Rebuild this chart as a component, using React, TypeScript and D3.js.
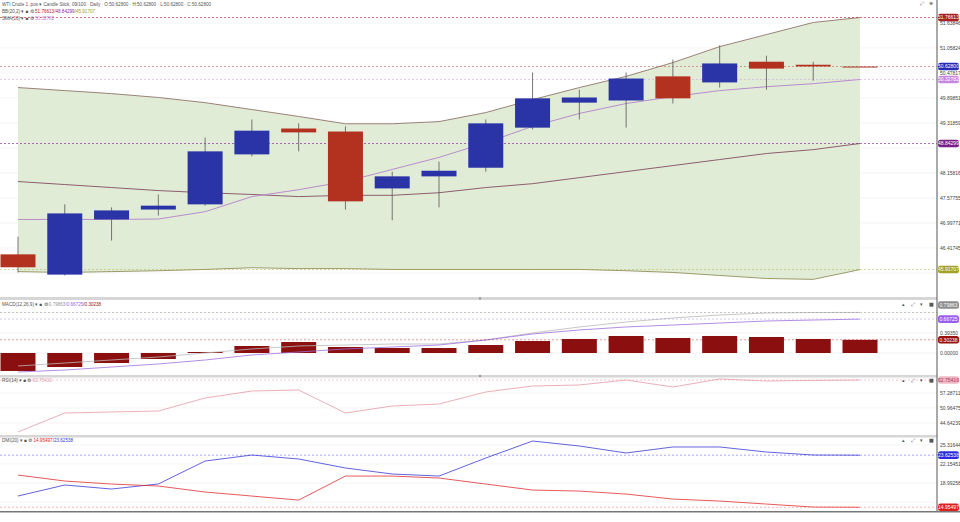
import React from 'react';
import * as d3 from 'd3';

const W = 960;
const H = 522;

// Candles (daily)
const opens = [46.27, 45.80, 47.08, 47.31, 47.43, 48.59, 49.19, 49.12, 47.80, 48.08, 48.28, 49.21, 49.79, 49.84, 50.40, 50.26, 50.74, 50.67, 50.628];
const highs = [46.68, 47.43, 47.36, 47.66, 48.98, 49.40, 49.31, 49.24, 48.19, 48.42, 49.40, 50.49, 50.09, 50.49, 50.79, 51.12, 50.88, 50.74, 50.628];
const lows = [45.85, 45.78, 46.59, 47.17, 47.40, 48.54, 48.66, 47.31, 47.06, 47.36, 48.19, 49.17, 49.40, 49.21, 49.77, 50.14, 50.09, 50.30, 50.628];
const closes = [45.97, 47.22, 47.29, 47.40, 48.66, 49.14, 49.10, 47.50, 48.08, 48.21, 49.31, 49.89, 49.91, 50.35, 49.89, 50.70, 50.58, 50.63, 50.628];

// Bollinger (20,2) and SMA(10)
const bbUpper = [50.14, 50.07, 50.0, 49.91, 49.79, 49.63, 49.47, 49.30, 49.30, 49.35, 49.56, 49.86, 50.14, 50.40, 50.72, 51.09, 51.37, 51.65, 51.76613];
const bbMiddle = [47.96, 47.89, 47.82, 47.75, 47.70, 47.66, 47.61, 47.64, 47.64, 47.70, 47.82, 47.91, 48.05, 48.19, 48.33, 48.47, 48.61, 48.70, 48.84299];
const bbLower = [45.87, 45.85, 45.87, 45.89, 45.92, 45.96, 45.94, 45.94, 45.92, 45.92, 45.92, 45.92, 45.92, 45.89, 45.85, 45.78, 45.71, 45.69, 45.91707];
const sma10 = [47.08, 47.08, 47.08, 47.09, 47.26, 47.61, 47.77, 47.96, 48.24, 48.52, 48.86, 49.24, 49.54, 49.77, 49.93, 50.07, 50.16, 50.23, 50.32782];

// MACD(12,26,9)
const macdLine = [-0.256, -0.197, -0.138, -0.079, 0.0, 0.079, 0.138, 0.157, 0.177, 0.177, 0.256, 0.394, 0.512, 0.61, 0.689, 0.748, 0.787, 0.797, 0.79863];
const macdSignal = [-0.374, -0.335, -0.276, -0.216, -0.138, -0.039, 0.02, 0.079, 0.118, 0.157, 0.256, 0.374, 0.453, 0.512, 0.551, 0.59, 0.63, 0.649, 0.66725];
const macdHist = [-0.354, -0.276, -0.197, -0.118, 0.02, 0.138, 0.216, 0.118, 0.098, 0.098, 0.157, 0.236, 0.276, 0.335, 0.295, 0.335, 0.315, 0.276, 0.26];

// RSI(14)
const rsi = [40.85, 48.86, 49.28, 49.7, 55.18, 58.13, 58.55, 48.86, 51.81, 52.65, 57.71, 60.24, 60.66, 62.77, 59.81, 63.19, 62.34, 62.6, 62.75416];

// DMI(20)
const diPlus = [16.83, 18.66, 17.99, 18.83, 22.65, 23.65, 22.99, 21.49, 20.49, 20.15, 23.15, 25.98, 25.15, 23.99, 24.99, 24.99, 24.15, 23.65, 23.62538];
const diMinus = [20.32, 19.32, 18.82, 18.49, 17.49, 16.82, 16.15, 20.15, 20.15, 19.82, 18.82, 17.82, 17.65, 17.15, 16.32, 15.99, 15.49, 14.99, 14.95497];

// Axis tick labels
const priceTicks = [51.63846, 51.05824, 50.47817, 49.89851, 49.31859, 48.73837, 48.15816, 47.57755, 46.99771, 46.41745, 45.83724];
const macdTicks = [0.3935, 0.0];
const rsiTicks = [63.60947, 57.28711, 50.96475, 44.64239];
const dmiTicks = [25.31644, 22.15451, 18.99258, 15.83065];

const FONT = 'Liberation Sans, Arial, sans-serif';
const UP = '#2a34a6';
const DOWN = '#b3321f';
const AXIS_X = 937;

function Badge({ y, value, color, textColor = '#fff' }: { y: number; value: string; color: string; textColor?: string }) {
  return (
    <g>
      <rect x={AXIS_X + 1} y={y - 3.8} width={21} height={7.6} rx={2.5} fill={color} />
      <text x={AXIS_X + 11.5} y={y + 1.8} fontSize={5} textAnchor="middle" fill={textColor} fontFamily={FONT}>{value}</text>
    </g>
  );
}

function PanelIcons({ y }: { y: number }) {
  return (
    <g fontFamily="DejaVu Sans, sans-serif" fontSize={5} fill="#555">
      <text x={902} y={y}>▴</text>
      <text x={911} y={y}>⤢</text>
      <text x={920} y={y}>▾</text>
      <text x={929} y={y}>■</text>
    </g>
  );
}

export default function App() {
  const idx = d3.range(opens.length);
  const x = d3.scaleLinear().domain([0, opens.length - 1]).range([18, 860]);
  const candleW = 35;

  const yMain = d3.scaleLinear().domain([45.2573, 51.9865]).range([298, 8]);
  const yMacd = d3.scaleLinear().domain([-0.433, 1.043]).range([375, 300]);
  const yRsi = d3.scaleLinear().domain([39.59, 64.03]).range([435, 377]);
  const yDmi = d3.scaleLinear().domain([14.5, 26.65]).range([510, 437]);

  const lineOf = (arr: number[], y: d3.ScaleLinear<number, number>) =>
    d3.line<number>().x((_, i) => x(i)).y((d) => y(d))(arr) || '';

  const bandArea = d3.area<number>()
    .x((i) => x(i))
    .y0((i) => yMain(bbLower[i]))
    .y1((i) => yMain(bbUpper[i]))(idx) || '';

  const last = opens.length - 1;

  const badgeYs = [
    yMain(bbUpper[last]), yMain(closes[last]), yMain(sma10[last]), yMain(bbMiddle[last]), yMain(bbLower[last]),
    305, yMacd(macdSignal[last]), yMacd(macdHist[last]),
    yRsi(rsi[last]),
    yDmi(diPlus[last]), yDmi(diMinus[last]),
  ];
  const hidden = (yy: number) => badgeYs.some((b) => Math.abs(b - yy) < 5.5);

  const dashed = (y: number, color: string, op = 1) => (
    <line x1={0} x2={AXIS_X} y1={y} y2={y} stroke={color} strokeWidth={0.8} strokeDasharray="2,2" opacity={op} />
  );

  const grid = (ticks: number[], y: d3.ScaleLinear<number, number>) =>
    ticks.map((t, i) => (
      <line key={i} x1={0} x2={AXIS_X} y1={y(t)} y2={y(t)} stroke="#ececec" strokeWidth={0.6} />
    ));

  const tickLabels = (ticks: number[], y: d3.ScaleLinear<number, number>, digits: number) =>
    ticks.filter((t) => !hidden(y(t))).map((t, i) => (
      <text key={i} x={AXIS_X + 3} y={y(t) + 1.8} fontSize={5} fill="#444" fontFamily={FONT}>{t.toFixed(digits)}</text>
    ));

  return (
    <svg width={W} height={H} style={{ position: 'absolute', left: 0, top: 0, background: '#fff' }}>
      <rect x={0} y={0} width={W} height={H} fill="#fff" />

      {/* ===== Main panel ===== */}
      {grid(priceTicks, yMain)}
      <path d={bandArea} fill="#e1ecd7" />
      <path d={lineOf(bbUpper, yMain)} fill="none" stroke="#9a8276" strokeWidth={1} />
      <path d={lineOf(bbLower, yMain)} fill="none" stroke="#9c9a6a" strokeWidth={1} />
      <path d={lineOf(bbMiddle, yMain)} fill="none" stroke="#8c5e6e" strokeWidth={1} />
      <path d={lineOf(sma10, yMain)} fill="none" stroke="#b98ccc" strokeWidth={1} />

      {dashed(yMain(bbUpper[last]), '#b22222', 0.8)}
      {dashed(yMain(closes[last]), '#c05050', 0.7)}
      {dashed(yMain(sma10[last]), '#d9a6e6', 0.8)}
      {dashed(yMain(bbMiddle[last]), '#7a1f8a', 0.8)}
      {dashed(yMain(bbLower[last]), '#a9a93a', 0.6)}

      {idx.map((i) => {
        const up = closes[i] > opens[i];
        const color = up ? UP : DOWN;
        const top = yMain(Math.max(opens[i], closes[i]));
        const bot = yMain(Math.min(opens[i], closes[i]));
        const h = Math.max(bot - top, 1);
        return (
          <g key={i}>
            <line x1={x(i)} x2={x(i)} y1={yMain(highs[i])} y2={yMain(lows[i])} stroke="#555" strokeWidth={0.8} />
            <rect x={x(i) - candleW / 2} y={top} width={candleW} height={h} fill={i === last ? '#a83a2a' : color} />
          </g>
        );
      })}

      {/* Main legend */}
      <g fontFamily={FONT} fontSize={4.6} fill="#555">
        <text x={2} y={5.5}>WTI Crude 1 .pos  ▾  Candle Stick, 09/100 · Daily · O:50.62800 · H:50.62800 · L:50.62800 · C:50.62800</text>
        <text x={2} y={12.5}>BB(20,2)  ▾  ■  ⚙  <tspan fill="#c02020">51.76613</tspan><tspan fill="#8a2a9a">/48.84299</tspan><tspan fill="#a0a020">/45.91707</tspan></text>
        <text x={2} y={19.5}>SMA(10)  ▾  ■  ⚙  <tspan fill="#c080d8">50.32782</tspan></text>
      </g>
      <g fontFamily="DejaVu Sans, sans-serif" fontSize={5} fill="#555">
        <text x={920} y={5}>⤢</text>
        <text x={929} y={5}>⊕</text>
      </g>

      {/* ===== MACD panel ===== */}
      <rect x={0} y={297} width={AXIS_X} height={3} fill="#d6d6d6" />
      <circle cx={480} cy={298.5} r={1.2} fill="#999" />
      {grid(macdTicks, yMacd)}
      {idx.map((i) => {
        const y0 = yMacd(0);
        const y1 = yMacd(macdHist[i]);
        return (
          <rect key={i} x={x(i) - candleW / 2} y={Math.min(y0, y1)} width={candleW} height={Math.max(Math.abs(y1 - y0), 1)} fill="#8b0f0f" />
        );
      })}
      <path d={lineOf(macdLine, yMacd)} fill="none" stroke="#b9b9b9" strokeWidth={0.8} />
      <path d={lineOf(macdSignal, yMacd)} fill="none" stroke="#a070e0" strokeWidth={0.8} />
      {dashed(yMacd(macdLine[last]), '#999', 0.8)}
      {dashed(yMacd(macdSignal[last]), '#b090f0', 0.6)}
      {dashed(yMacd(macdHist[last]), '#a01010', 0.5)}
      <g fontFamily={FONT} fontSize={4.6} fill="#555">
        <text x={2} y={306}>MACD(12,26,9)  ▾  ■  ⚙  <tspan fill="#999">0.79863</tspan><tspan fill="#9a66e0">/0.66725</tspan><tspan fill="#a01010">/0.30238</tspan></text>
      </g>
      <PanelIcons y={306} />

      {/* ===== RSI panel ===== */}
      <rect x={0} y={375} width={AXIS_X} height={2.5} fill="#d6d6d6" />
      <circle cx={480} cy={376} r={1.2} fill="#999" />
      {grid(rsiTicks, yRsi)}
      <path d={lineOf(rsi, yRsi)} fill="none" stroke="#e49aa8" strokeWidth={0.8} />
      {dashed(yRsi(rsi[last]), '#e8a0b0', 0.7)}
      <g fontFamily={FONT} fontSize={4.6} fill="#555">
        <text x={2} y={382}>RSI(14)  ▾  ■  ⚙  <tspan fill="#e8a0b0">62.75416</tspan></text>
      </g>
      <PanelIcons y={382} />

      {/* ===== DMI panel ===== */}
      <rect x={0} y={435} width={AXIS_X} height={2.5} fill="#d6d6d6" />
      {grid(dmiTicks, yDmi)}
      <path d={lineOf(diPlus, yDmi)} fill="none" stroke="#3a3ad8" strokeWidth={0.8} />
      <path d={lineOf(diMinus, yDmi)} fill="none" stroke="#e03030" strokeWidth={0.8} />
      {dashed(yDmi(diPlus[last]), '#4a4ae0', 0.6)}
      {dashed(yDmi(diMinus[last]), '#e05050', 0.5)}
      <g fontFamily={FONT} fontSize={4.6} fill="#555">
        <text x={2} y={442}>DMI(20)  ▾  ■  ⚙  <tspan fill="#e02020">14.95497</tspan><tspan fill="#3a3ad8">/23.62538</tspan></text>
      </g>
      <PanelIcons y={442} />

      {/* ===== Right axis ===== */}
      <rect x={AXIS_X + 0.5} y={0} width={W - AXIS_X} height={512} fill="#fff" />
      {tickLabels(priceTicks, yMain, 5)}
      {tickLabels(macdTicks, yMacd, 5)}
      {tickLabels(rsiTicks, yRsi, 5)}
      {tickLabels(dmiTicks, yDmi, 5)}

      <Badge y={yMain(bbUpper[last])} value="51.76613" color="#a82020" />
      <Badge y={yMain(closes[last])} value="50.62800" color="#2a2ab8" />
      <Badge y={yMain(sma10[last])} value="50.32782" color="#c58ae0" />
      <Badge y={yMain(bbMiddle[last])} value="48.84299" color="#7a1f8a" />
      <Badge y={yMain(bbLower[last])} value="45.91707" color="#a3a32a" />

      <Badge y={305} value="0.79863" color="#8c8c8c" />
      <Badge y={yMacd(macdSignal[last])} value="0.66725" color="#9a5ef0" />
      <Badge y={yMacd(macdHist[last])} value="0.30238" color="#9a1010" />

      <Badge y={yRsi(rsi[last])} value="62.75416" color="#f0b8c4" textColor="#a04060" />

      <Badge y={yDmi(diPlus[last])} value="23.62538" color="#2a2ae0" />
      <Badge y={yDmi(diMinus[last])} value="14.95497" color="#e02020" />

      <line x1={AXIS_X} x2={AXIS_X} y1={0} y2={512} stroke="#555" strokeWidth={1} />
      <rect x={0} y={511} width={W} height={1.5} fill="#777" />
    </svg>
  );
}
